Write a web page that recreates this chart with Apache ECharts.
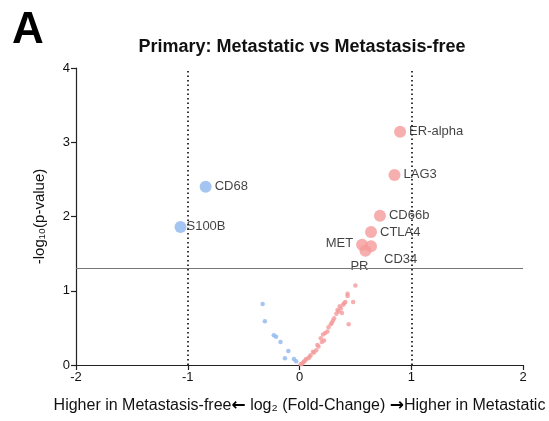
<!DOCTYPE html>
<html>
<head>
<meta charset="utf-8">
<script src="https://cdn.jsdelivr.net/npm/echarts@6/dist/echarts.min.js"></script>
<style>
html,body{margin:0;padding:0;background:#fff;}
#c{width:549px;height:421px;}
</style>
</head>
<body>
<div id="c"></div>
<script>
// ---- data ----
var xTicks = [-2, -1, 0, 1, 2];
var yTicks = [0, 1, 2, 3, 4];

var sigNames = ['ER-alpha', 'LAG3', 'CD66b', 'CTLA4', 'MET', 'PR', 'CD34', 'CD68', 'S100B'];
var sigX = [0.90, 0.85, 0.72, 0.64, 0.56, 0.59, 0.64, -0.84, -1.065];
var sigY = [3.14, 2.56, 2.01, 1.79, 1.62, 1.54, 1.60, 2.40, 1.86];
var sigDir = ['up', 'up', 'up', 'up', 'up', 'up', 'up', 'down', 'down'];

var pinkX = [0.50,0.48,0.43,0.43,0.44,0.41,0.40,0.39,0.38,0.37,0.36,0.34,0.35,0.33,0.31,0.30,0.29,0.28,0.26,0.25,0.23,0.21,0.22,0.20,0.19,0.17,0.16,0.15,0.13,0.12,0.10,0.09,0.08,0.06,0.05,0.04,0.03,0.02,0.01];
var pinkY = [1.07,0.85,0.96,0.93,0.55,0.85,0.83,0.81,0.70,0.76,0.79,0.74,0.72,0.69,0.63,0.60,0.57,0.55,0.51,0.45,0.43,0.41,0.33,0.31,0.36,0.25,0.27,0.20,0.17,0.18,0.13,0.11,0.09,0.08,0.06,0.045,0.03,0.015,0.01];

var blueX = [-0.33,-0.31,-0.23,-0.21,-0.17,-0.10,-0.13,-0.05,-0.03];
var blueY = [0.82,0.59,0.40,0.38,0.31,0.19,0.09,0.08,0.05];

var pThreshold = 1.301;   // -log10(0.05)
var fcThresholds = [-1, 1];

// ---- style ----
var PINK = '#F59A9A';
var BLUE = '#8DB6EE';
var FONT = '"Liberation Sans", Arial, sans-serif';

var labelPlacement = {
  'ER-alpha': {position: 'right', offset: [0, 0]},
  'LAG3': {position: 'right', offset: [0, 0]},
  'CD66b': {position: 'right', offset: [0, 0]},
  'CTLA4': {position: 'right', offset: [0, 0]},
  'MET': {position: 'left', offset: [0, -1]},
  'PR': {position: 'bottom', offset: [-6, 0]},
  'CD34': {position: 'right', offset: [4, 13]},
  'CD68': {position: 'right', offset: [0, 0]},
  'S100B': {position: 'right', offset: [-3, 0]}
};

var sigData = sigNames.map(function (n, i) {
  var p = labelPlacement[n];
  return {
    name: n,
    value: [sigX[i], sigY[i]],
    itemStyle: {color: sigDir[i] === 'up' ? PINK : BLUE},
    label: {show: true, position: p.position, offset: p.offset, distance: 3}
  };
});
var pinkData = pinkX.map(function (x, i) { return [x, pinkY[i]]; });
var blueData = blueX.map(function (x, i) { return [x, blueY[i]]; });

var chart = echarts.init(document.getElementById('c'), null, {renderer: 'canvas'});
chart.setOption({
  backgroundColor: '#fff',
  animation: false,
  textStyle: {fontFamily: FONT},
  title: {
    text: 'Primary: Metastatic vs Metastasis-free',
    left: 297, top: 33, textAlign: 'center',
    textStyle: {fontFamily: FONT, fontSize: 18, fontWeight: 'bold', color: '#111'}
  },
  graphic: [{
    type: 'text', left: 12, top: 9,
    style: {text: 'A', fontFamily: FONT, fontSize: 44, fontWeight: 'bold', fill: '#000'}
  }],
  grid: {left: 76, right: 26, top: 68, bottom: 56},
  xAxis: {
    type: 'value', min: xTicks[0], max: xTicks[xTicks.length - 1], interval: 1,
    splitLine: {show: false},
    axisLine: {onZero: false, lineStyle: {color: '#222', width: 1.2}},
    axisTick: {show: true, length: 5, lineStyle: {color: '#222', width: 1.2}},
    axisLabel: {color: '#111', fontSize: 13, margin: 6, fontFamily: FONT},
    name: '{t|Higher in Metastasis-free}{a|\u2190}{t| log\u2082 (Fold-Change) }{a|\u2192}{t|Higher in Metastatic}',
    nameLocation: 'middle', nameGap: 32,
    nameTextStyle: {
      color: '#111', fontSize: 16, fontFamily: FONT,
      rich: {
        t: {color: '#111', fontSize: 16, fontFamily: FONT},
        a: {color: '#000', fontSize: 17, fontWeight: 'bold', fontFamily: '"DejaVu Sans", sans-serif'}
      }
    }
  },
  yAxis: {
    type: 'value', min: yTicks[0], max: yTicks[yTicks.length - 1], interval: 1,
    splitLine: {show: false},
    axisLine: {show: true, onZero: false, lineStyle: {color: '#222', width: 1.2}},
    axisTick: {show: true, length: 5, lineStyle: {color: '#222', width: 1.2}},
    axisLabel: {color: '#111', fontSize: 13, margin: 6, fontFamily: FONT},
    name: '-log\u2081\u2080(p-value)',
    nameLocation: 'middle', nameGap: 29, nameRotate: 90,
    nameTextStyle: {color: '#111', fontSize: 15, fontFamily: FONT}
  },
  series: [
    {
      type: 'scatter', name: 'ns-up', data: pinkData, symbolSize: 4.5,
      itemStyle: {color: PINK}, z: 3,
      markLine: {
        silent: true, symbol: 'none', label: {show: false},
        data: [
          {yAxis: pThreshold, lineStyle: {color: '#777', type: 'solid', width: 1.2}},
          {xAxis: fcThresholds[0], lineStyle: {color: '#222', type: [1.5, 3], width: 1.8}},
          {xAxis: fcThresholds[1], lineStyle: {color: '#222', type: [1.5, 3], width: 1.8}}
        ]
      }
    },
    {
      type: 'scatter', name: 'ns-down', data: blueData, symbolSize: 4.5,
      itemStyle: {color: BLUE}, z: 3
    },
    {
      type: 'scatter', name: 'sig', data: sigData, symbolSize: 12, z: 4,
      label: {color: '#111', fontSize: 13, fontFamily: FONT, formatter: '{b}'}
    }
  ]
});
</script>
</body>
</html>
